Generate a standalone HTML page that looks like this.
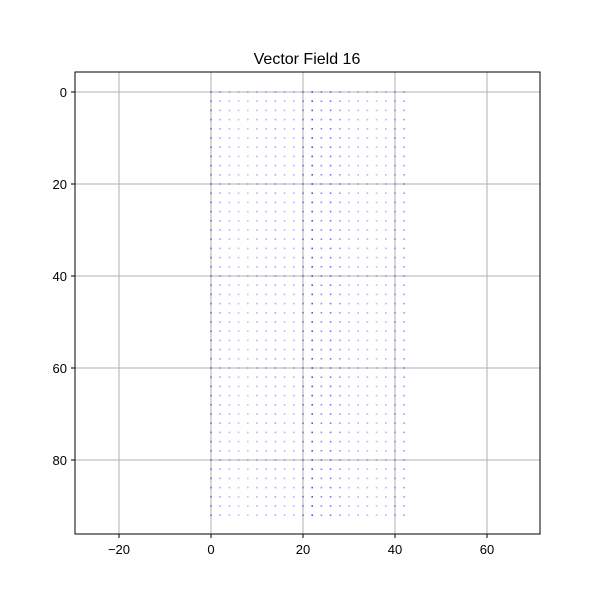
<!DOCTYPE html>
<html><head><meta charset="utf-8"><style>
body{margin:0;background:#fff;font-family:"Liberation Sans",sans-serif}
</style></head><body>
<svg id="chart" width="600" height="600" xmlns="http://www.w3.org/2000/svg">
<rect width="600" height="600" fill="#fff"/>
<text x="307" y="64" font-size="16" text-anchor="middle">Vector Field 16</text>
<g id="grid"></g>
<g id="marks"></g>
<rect x="75" y="72" width="465" height="462" fill="none" stroke="#000" stroke-width="1"/>
<g id="ticks"></g>
</svg>
<script>
const xTicks=[-20,0,20,40,60];
const yTicks=[0,20,40,60,80];
const xs=[0,2,4,6,8,10,12,14,16,18,20,22,24,26,28,30,32,34,36,38,40,42];
const ys=[];for(let i=0;i<=92;i+=2)ys.push(i);
const colMag=[0.5,0.35,0.3,0.25,0.25,0.3,0.3,0.35,0.3,0.3,0.45,0.7,0.45,0.55,0.4,0.3,0.3,0.3,0.25,0.3,0.35,0.4];
const X=v=>211+(v)*4.6, Y=v=>92+v*4.6;
const ns="http://www.w3.org/2000/svg";
const grid=document.getElementById('grid'),ticks=document.getElementById('ticks'),marks=document.getElementById('marks');
function mk(t,a,p){const e=document.createElementNS(ns,t);for(const k in a)e.setAttribute(k,a[k]);p.appendChild(e);return e;}
xTicks.forEach(t=>{
 const l=mk('line',{x1:X(t),x2:X(t),y1:72,y2:534,stroke:'#b0b0b0','stroke-width':1},grid);
 
 
 mk('line',{x1:X(t),x2:X(t),y1:534,y2:538,stroke:'#000'},ticks);
 const tx=mk('text',{x:X(t),y:554,'font-size':13,'text-anchor':'middle'},ticks);tx.textContent=t<0?'\u2212'+(-t):t;
 
 
});
yTicks.forEach(t=>{
 const l=mk('line',{x1:75,x2:540,y1:Y(t),y2:Y(t),stroke:'#b0b0b0','stroke-width':1},grid);
 
 
 mk('line',{x1:71,x2:75,y1:Y(t),y2:Y(t),stroke:'#000'},ticks);
 const tx=mk('text',{x:67,y:Y(t)+5,'font-size':13,'text-anchor':'end'},ticks);tx.textContent=t;
 
 
});
xs.forEach((x,i)=>ys.forEach(y=>{
 const r=mk('rect',{x:X(x)-0.8,y:Y(y)-0.8,width:1.6,height:1.6,fill:'#0000ff','fill-opacity':colMag[i]},marks);
 
 
}));
</script>
</body></html>
